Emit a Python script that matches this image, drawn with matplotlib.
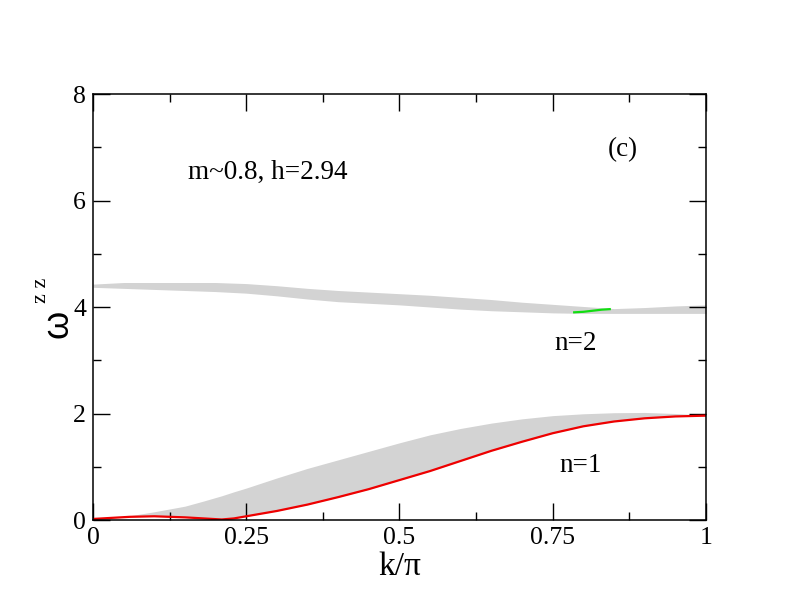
import numpy as np
import matplotlib
matplotlib.use('Agg')
import matplotlib.pyplot as plt
from matplotlib.ticker import MultipleLocator

plt.rcParams['font.family'] = ['Liberation Serif', 'DejaVu Serif']

# n=1 continuum: red lower edge and grey upper edge
k1 = [0.0, 0.03, 0.06, 0.1, 0.15, 0.18, 0.21, 0.23, 0.25, 0.3, 0.35, 0.4,
      0.45, 0.5, 0.55, 0.6, 0.65, 0.7, 0.75, 0.8, 0.85, 0.9, 0.95, 1.0]
n1_low = [0.02, 0.04, 0.06, 0.07, 0.05, 0.03, 0.01, 0.03, 0.07, 0.17, 0.29, 0.43,
          0.58, 0.75, 0.92, 1.11, 1.30, 1.47, 1.63, 1.76, 1.85, 1.91, 1.945, 1.96]
n1_high = [0.0, 0.03, 0.08, 0.155, 0.26, 0.355, 0.455, 0.53, 0.60, 0.79, 0.97, 1.13,
           1.29, 1.45, 1.60, 1.72, 1.82, 1.90, 1.96, 1.995, 2.015, 2.02, 2.0, 1.97]

# n=2 continuum
k2 = [0.0, 0.05, 0.1, 0.15, 0.2, 0.25, 0.3, 0.35, 0.4, 0.45, 0.5,
      0.55, 0.6, 0.65, 0.7, 0.75, 0.8, 0.85, 0.9, 0.95, 1.0]
n2_low = [4.37, 4.35, 4.33, 4.31, 4.29, 4.26, 4.21, 4.15, 4.10, 4.07, 4.04,
          4.00, 3.96, 3.93, 3.91, 3.89, 3.88, 3.88, 3.88, 3.88, 3.88]
n2_high = [4.43, 4.46, 4.46, 4.46, 4.46, 4.44, 4.40, 4.35, 4.31, 4.28, 4.25,
           4.22, 4.18, 4.14, 4.09, 4.05, 4.01, 3.97, 3.99, 4.02, 4.04]

# short green segment inside the n=2 band
k_green = [0.785, 0.80, 0.815, 0.83, 0.843]
w_green = [3.90, 3.91, 3.93, 3.95, 3.96]

fig = plt.figure(figsize=(7.92, 6.12), dpi=100)
ax = fig.add_axes([0.1174, 0.1503, 0.774, 0.6961])

ax.fill_between(k1, n1_low, n1_high, color='#d3d3d3', lw=0)
ax.fill_between(k2, n2_low, n2_high, color='#d3d3d3', lw=0)
ax.plot(k1, n1_low, color='#ee0000', lw=1.6)
ax.plot(k_green, w_green, color='#11dd11', lw=1.6)

ax.set_xlim(0, 1)
ax.set_ylim(0, 8)
ax.xaxis.set_major_locator(MultipleLocator(0.25))
ax.xaxis.set_minor_locator(MultipleLocator(0.125))
ax.yaxis.set_major_locator(MultipleLocator(2))
ax.yaxis.set_minor_locator(MultipleLocator(1))
ax.set_xticks([0, 0.25, 0.5, 0.75, 1])
ax.set_xticklabels(['0', '0.25', '0.5', '0.75', '1'])
ax.tick_params(which='both', direction='in', top=True, right=True, labelsize=18.5, width=1)
ax.tick_params(which='major', length=12, pad=5)
ax.tick_params(which='minor', length=6)
for s in ax.spines.values():
    s.set_linewidth(1.1)

ax.set_xlabel('k/π', fontsize=24, labelpad=2)
# y label: omega with a small "z z" superscript, as in the original
fig.text(0.0735, 0.4706, 'ω', rotation=90, fontsize=26, family='Liberation Sans',
         ha='center', va='center')
fig.text(0.0518, 0.526, 'z z', rotation=90, fontsize=16,
         ha='center', va='center')

ax.text(0.155, 6.52, 'm~0.8, h=2.94', fontsize=19.5, va='center')
ax.text(0.865, 6.95, '(c)', fontsize=19.5, ha='center', va='center')
ax.text(0.788, 3.32, 'n=2', fontsize=19.5, ha='center', va='center')
ax.text(0.796, 1.03, 'n=1', fontsize=19.5, ha='center', va='center')

fig.savefig('out.png', dpi=100)
